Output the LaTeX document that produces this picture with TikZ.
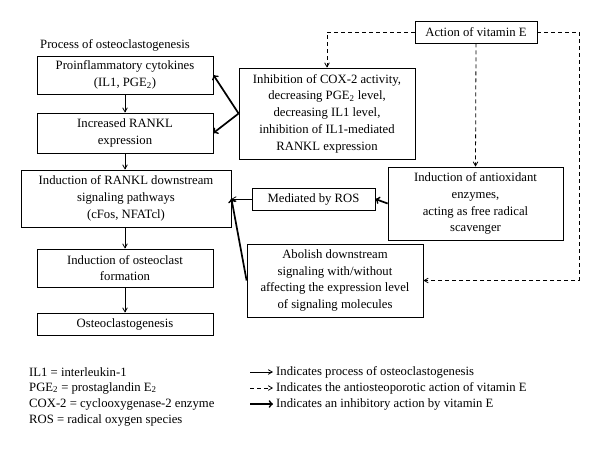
\documentclass[tikz,border=0pt]{standalone}
\usepackage{fontspec}
\setmainfont{Liberation Serif}
\usetikzlibrary{arrows,positioning}

\begin{document}
\begin{tikzpicture}[x=1pt,y=-1pt,
    box/.style={draw, line width=0.8pt, align=center, inner sep=0pt, font=\fontsize{12.7}{16.8}\selectfont},
    proc/.style={-angle 60, line width=0.8pt},
    vit/.style={-angle 60, line width=0.8pt, dash pattern=on 4pt off 3pt},
    inhib/.style={->, line width=1.7pt},
    txt/.style={anchor=west, inner sep=0pt, font=\fontsize{12.7}{16.8}\selectfont}]
    \useasboundingbox (0,0) rectangle (600,456);

    \node [txt] (title) at (40,45) {Process of osteoclastogenesis};

    \node [box, minimum width=176, minimum height=38] (pic) at (125,75) {Proinflammatory cytokines\\(IL1, PGE\textsubscript{2})};
    \node [box, minimum width=176, minimum height=40] (rankl) at (125,133) {Increased RANKL\\expression};
    \node [box, minimum width=210, minimum height=57] (down) at (126,198.5) {Induction of RANKL downstream\\signaling pathways\\(cFos, NFATcl)};
    \node [box, minimum width=176, minimum height=38] (form) at (125,268) {Induction of osteoclast\\formation};
    \node [box, minimum width=176, minimum height=22] (ocg) at (125,324) {Osteoclastogenesis};

    \node [box, minimum width=122, minimum height=22] (vite) at (476,32) {Action of vitamin E};
    \node [box, minimum width=176, minimum height=91] (cox) at (327,113.5) {Inhibition of COX-2 activity,\\decreasing PGE\textsubscript{2} level,\\decreasing IL1 level,\\inhibition of IL1-mediated\\RANKL expression};
    \node [box, minimum width=123, minimum height=22] (ros) at (313.5,199) {Mediated by ROS};
    \node [box, minimum width=175, minimum height=73] (anti) at (475.5,203.5) {Induction of antioxidant\\enzymes,\\acting as free radical\\scavenger};
    \node [box, minimum width=176, minimum height=73] (abol) at (335,280.5) {Abolish downstream\\signaling with/without\\affecting the expression level\\of signaling molecules};
    \coordinate (turn) at (579,32);

    \path[proc] (pic) edge (rankl);
    \path[proc] (rankl.south) edge (rankl.south |- down.north);
    \path[proc] (form.north |- down.south) edge (form.north);
    \path[proc] (form) edge (ocg);
    \path[proc] (ros) edge (down.east |- ros.west);

    \draw[vit] (vite.west) -| (cox.north);
    \draw[vit] (vite.south) -- (anti.north);
    \draw[vit] (vite.east) -- (turn) |- (abol.east);

    \path[inhib] (cox.west) edge (pic.east);
    \path[inhib] (cox.west) edge (rankl.east);
    \path[inhib] (anti.west) edge (ros.east);
    \path[inhib] (abol.west) edge (down.east);

    \node [txt] (il1) at (29,372) {IL1 = interleukin-1};
    \node [txt] (pge) at (29,388) {PGE\textsubscript{2} = prostaglandin E\textsubscript{2}};
    \node [txt] (coxk) at (29,404) {COX-2 = cyclooxygenase-2 enzyme};
    \node [txt] (rosk) at (29,420) {ROS = radical oxygen species};

    \node [txt] (key1) at (276,372) {Indicates process of osteoclastogenesis};
    \node [txt] (key2) at (276,388) {Indicates the antiosteoporotic action of vitamin E};
    \node [txt] (key3) at (276,404) {Indicates an inhibitory action by vitamin E};
    \coordinate (k1) at (250,372);
    \coordinate (k2) at (250,388);
    \coordinate (k3) at (250,404);
    \draw[proc] (k1) -- ([xshift=-3pt]key1.west);
    \draw[vit] (k2) -- ([xshift=-3pt]key2.west);
    \draw[inhib] (k3) -- ([xshift=-3pt]key3.west);
\end{tikzpicture}
\end{document}
